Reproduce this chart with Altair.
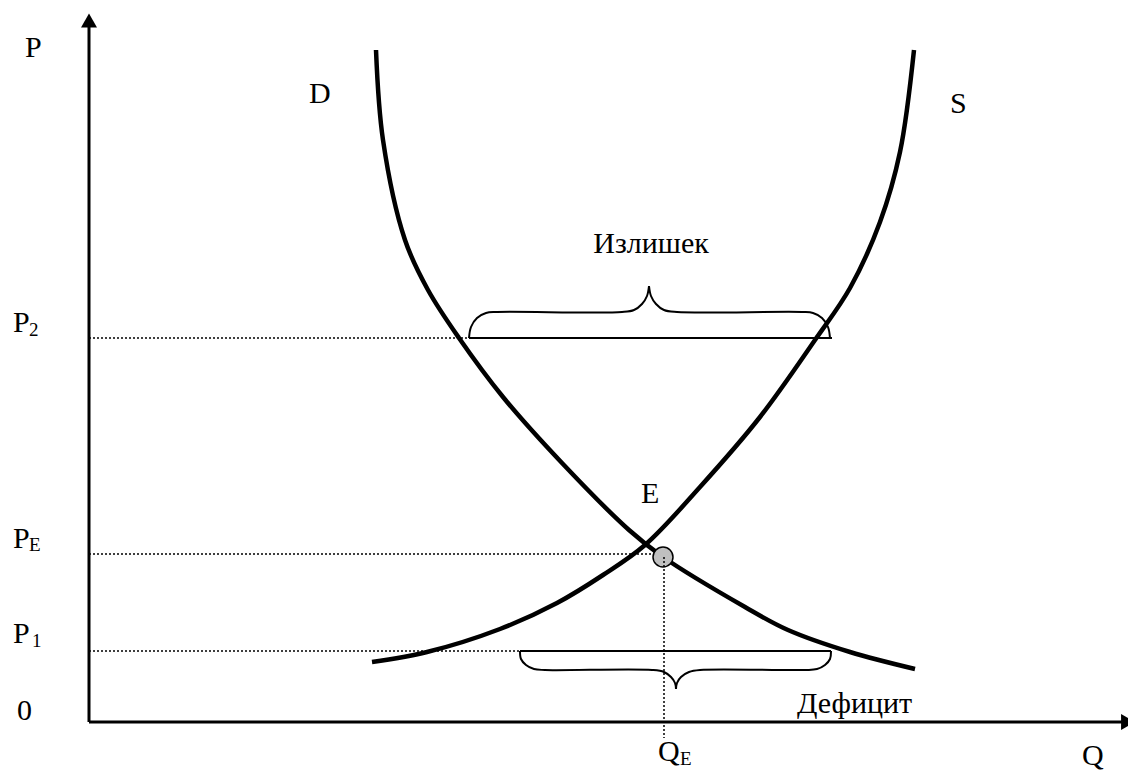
import altair as alt
import pandas as pd

# ---- data (Q = quantity, P = price; origin at the axes corner) ----
demand_q = [287, 294, 316, 339, 370, 414, 473, 540, 574, 656, 699, 761, 826]
demand_p = [672, 582, 482, 432, 384, 325, 259, 192, 165, 115, 92, 70, 53]
supply_q = [283, 338, 411, 468, 514, 556, 611, 671, 726, 761, 791, 811, 825]
supply_p = [60, 70, 93, 119, 147, 177, 235, 305, 382, 434, 500, 570, 672]

price_names = ["P2", "PE", "P1"]
price_levels = [384, 168, 71]
price_line_end = [403, 566, 451]
QE = 575
E_point = (574, 165)

# braces: surplus (at P2) and deficit (at P1)
surplus_q = [380, 743]
deficit_q = [431, 742]
surplus_left_q = [380, 382, 388, 397, 408, 533, 545, 553, 558, 560]
surplus_left_p = [384, 395, 404, 409, 410, 410, 412, 418, 426, 436]
surplus_right_q = [560, 562, 567, 575, 588, 713, 724, 733, 739, 741]
surplus_right_p = [436, 426, 418, 412, 410, 410, 409, 404, 395, 384]
deficit_left_q = [431, 432, 437, 445, 456, 563, 575, 582, 586, 587]
deficit_left_p = [71, 63, 57, 53, 52, 52, 50, 45, 39, 33]
deficit_right_q = [587, 588, 592, 600, 611, 716, 728, 736, 741, 742]
deficit_right_p = [33, 39, 45, 50, 52, 52, 53, 57, 63, 71]

# labels
main_text = ["P", "P", "P", "P", "0", "D", "S", "E", "Излишек", "Дефицит", "Q", "Q"]
main_q = [-64, -76, -76, -76, -72, 220, 861, 552, 562, 708, 569, 993]
main_p = [665, 390, 174, 79, 2, 619, 609, 219, 469, 9, -39, -43]
main_align = ["left"] * 8 + ["center"] + ["left"] * 3
sub_text = ["2", "E", "1", "E"]
sub_q = [-60, -60, -57, 591]
sub_p = [386, 171, 75, -43]

FONT = "Liberation Serif"
XS = alt.Scale(domain=[-81, 1039], nice=False, zero=False)
YS = alt.Scale(domain=[-50, 714], nice=False, zero=False)


def X(f="q"):
    return alt.X(f + ":Q", scale=XS, axis=None)


def Y(f="p"):
    return alt.Y(f + ":Q", scale=YS, axis=None)


# dotted price lines
dotted_df = pd.DataFrame({"q": [0] * 3, "q2": price_line_end, "p": price_levels, "name": price_names})
dotted = alt.Chart(dotted_df).mark_rule(color="black", strokeWidth=1.5, strokeDash=[2, 2]).encode(
    x=X(), x2="q2:Q", y=Y()
)
qe_df = pd.DataFrame({"q": [QE], "p": [E_point[1]], "p2": [-16]})
qe_line = alt.Chart(qe_df).mark_rule(color="black", strokeWidth=1.5, strokeDash=[2, 2]).encode(
    x=X(), y=Y(), y2="p2:Q"
)

# axes
axes_df = pd.DataFrame({"q": [0, 0], "q2": [0, 1039], "p": [0, 0], "p2": [700, 0]})
axes = alt.Chart(axes_df).mark_rule(color="black", strokeWidth=3).encode(
    x=X(), x2="q2:Q", y=Y(), y2="p2:Q"
)
arrow_up = alt.Chart(pd.DataFrame({"q": [0], "p": [701.5]})).mark_point(
    shape="triangle-up", filled=True, color="black", size=256, opacity=1
).encode(x=X(), y=Y())
arrow_right = alt.Chart(pd.DataFrame({"q": [1039], "p": [0]})).mark_point(
    shape="triangle-right", filled=True, color="black", size=256, opacity=1
).encode(x=X(), y=Y())

# brace base lines
base_df = pd.DataFrame({"q": [surplus_q[0], deficit_q[0]], "q2": [surplus_q[1], deficit_q[1]],
                        "p": [price_levels[0], price_levels[2]]})
bases = alt.Chart(base_df).mark_rule(color="black", strokeWidth=2).encode(x=X(), x2="q2:Q", y=Y())

rows = []
for name, qs, ps in [("sl", surplus_left_q, surplus_left_p), ("sr", surplus_right_q, surplus_right_p),
                     ("dl", deficit_left_q, deficit_left_p), ("dr", deficit_right_q, deficit_right_p)]:
    for i, (a, b) in enumerate(zip(qs, ps)):
        rows.append({"half": name, "i": i, "q": a, "p": b})
brace_df = pd.DataFrame(rows)
braces = alt.Chart(brace_df).mark_line(color="black", strokeWidth=2, interpolate="catmull-rom").encode(
    x=X(), y=Y(), detail="half:N", order="i:Q"
)

# curves
curve_rows = []
for i, (a, b) in enumerate(zip(demand_q, demand_p)):
    curve_rows.append({"curve": "D", "i": i, "q": a, "p": b})
for i, (a, b) in enumerate(zip(supply_q, supply_p)):
    curve_rows.append({"curve": "S", "i": i, "q": a, "p": b})
curve_df = pd.DataFrame(curve_rows)
curves = alt.Chart(curve_df).mark_line(color="black", strokeWidth=4.5, interpolate="catmull-rom").encode(
    x=X(), y=Y(), detail="curve:N", order="i:Q"
)

# equilibrium point
eq = alt.Chart(pd.DataFrame({"q": [E_point[0]], "p": [E_point[1]]})).mark_point(
    shape="circle", filled=True, fill="#c0c0c0", stroke="black", strokeWidth=1.5, size=400, opacity=1
).encode(x=X(), y=Y())

# texts
main_df = pd.DataFrame({"t": main_text, "q": main_q, "p": main_p, "a": main_align})
main_left = alt.Chart(main_df[main_df.a == "left"]).mark_text(
    font=FONT, fontSize=30, align="left", baseline="alphabetic", color="black"
).encode(x=X(), y=Y(), text="t:N")
main_center = alt.Chart(main_df[main_df.a == "center"]).mark_text(
    font=FONT, fontSize=30, align="center", baseline="alphabetic", color="black"
).encode(x=X(), y=Y(), text="t:N")
sub_df = pd.DataFrame({"t": sub_text, "q": sub_q, "p": sub_p})
sub_labels = alt.Chart(sub_df).mark_text(
    font=FONT, fontSize=19, align="left", baseline="alphabetic", color="black"
).encode(x=X(), y=Y(), text="t:N")

chart = alt.layer(
    dotted, axes, arrow_up, arrow_right, bases, braces, curves, eq, qe_line,
    main_left, main_center, sub_labels
).properties(
    width=1120, height=764, padding=0, autosize=alt.AutoSizeParams(type="none"), background="white"
).configure_view(stroke=None)

chart.save("out.html", embed_options={"renderer": "svg", "actions": False})
